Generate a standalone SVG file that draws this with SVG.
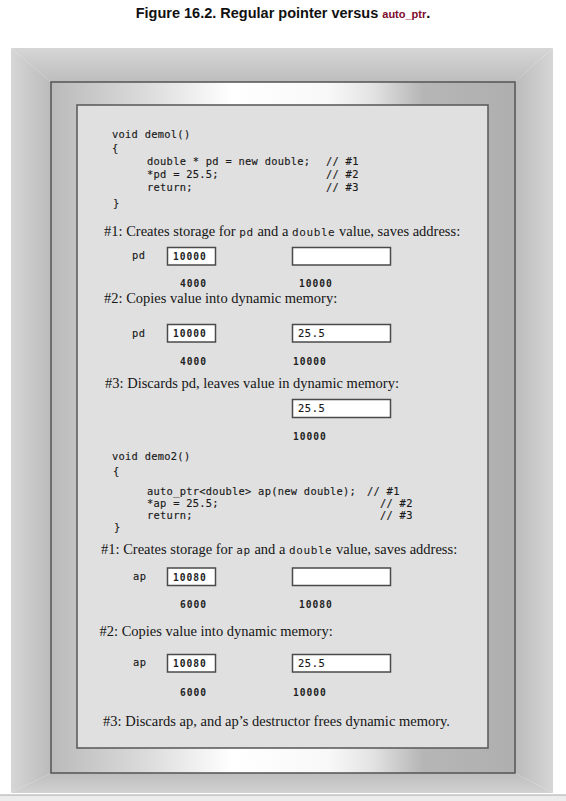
<svg xmlns="http://www.w3.org/2000/svg" width="566" height="801" viewBox="0 0 566 801">
  <defs>
    <!-- bevelled outer frame: each side shaded toward the inner edge -->
    <linearGradient id="gTop" x1="0" y1="48" x2="0" y2="82" gradientUnits="userSpaceOnUse">
      <stop offset="0" stop-color="#d6d6d6"/>
      <stop offset="1" stop-color="#bdbdbd"/>
    </linearGradient>
    <linearGradient id="gBottom" x1="0" y1="773" x2="0" y2="793" gradientUnits="userSpaceOnUse">
      <stop offset="0" stop-color="#bdbdbd"/>
      <stop offset="1" stop-color="#d2d2d2"/>
    </linearGradient>
    <linearGradient id="gLeft" x1="11" y1="0" x2="51" y2="0" gradientUnits="userSpaceOnUse">
      <stop offset="0" stop-color="#d6d6d6"/>
      <stop offset="1" stop-color="#bbbbbb"/>
    </linearGradient>
    <linearGradient id="gRight" x1="515" y1="0" x2="553" y2="0" gradientUnits="userSpaceOnUse">
      <stop offset="0" stop-color="#bbbbbb"/>
      <stop offset="1" stop-color="#d6d6d6"/>
    </linearGradient>
    <!-- metallic sheen of the middle mat -->
    <linearGradient id="gMat" x1="51" y1="0" x2="515" y2="0" gradientUnits="userSpaceOnUse">
      <stop offset="0" stop-color="#bababa"/>
      <stop offset="0.21" stop-color="#dcdcdc"/>
      <stop offset="0.39" stop-color="#ffffff"/>
      <stop offset="0.60" stop-color="#f8f8f8"/>
      <stop offset="0.69" stop-color="#e4e4e4"/>
      <stop offset="0.80" stop-color="#b6b6b6"/>
      <stop offset="1" stop-color="#afafaf"/>
    </linearGradient>
  </defs>
  <style>
    .title { font-family: "Liberation Sans", Arial, sans-serif; font-weight: bold; font-size: 14.5px; fill: #111; }
    .title .lit { font-size: 11px; fill: #7d0a2c; }
    .code { font-family: "DejaVu Sans Mono", "Liberation Mono", monospace; font-size: 10.4px; letter-spacing: 0.28px; fill: #1a1a1a; stroke: #1a1a1a; stroke-width: 0.15; }
    .cap { font-family: "Liberation Serif", "Times New Roman", serif; font-size: 14.5px; fill: #151515; }
    .cap .m { font-family: "DejaVu Sans Mono", "Liberation Mono", monospace; font-size: 11px; letter-spacing: 0.6px; }
    .num { font-family: "DejaVu Sans Mono", "Liberation Mono", monospace; font-size: 9.6px; font-weight: bold; letter-spacing: 1.0px; fill: #222; }
    .val { font-family: "DejaVu Sans Mono", "Liberation Mono", monospace; font-size: 10.4px; letter-spacing: 0.6px; fill: #1a1a1a; stroke: #1a1a1a; stroke-width: 0.15; }
    .cell { fill: #ffffff; stroke: #4a4a4a; stroke-width: 1.5; }
  </style>

  <rect x="0" y="0" width="566" height="801" fill="#ffffff"/>

  <!-- heading -->
  <text class="title" x="283" y="17.5" text-anchor="middle">Figure 16.2. Regular pointer versus <tspan class="lit">auto_ptr</tspan>.</text>

  <!-- page strip under the frame -->
  <rect x="0" y="795" width="566" height="6" fill="#ececec"/>
  <line x1="0" y1="795" x2="566" y2="795" stroke="#a8a8a8" stroke-width="1"/>

  <!-- frame -->
  <g id="frame">
    <polygon points="11,48 553,48 515,82 51,82" fill="url(#gTop)"/>
    <polygon points="51,773 515,773 553,793 11,793" fill="url(#gBottom)"/>
    <polygon points="11,48 51,82 51,773 11,793" fill="url(#gLeft)"/>
    <polygon points="553,48 515,82 515,773 553,793" fill="url(#gRight)"/>
    <rect x="51" y="82" width="464" height="691" fill="url(#gMat)" stroke="#5a5a5a" stroke-width="1.6"/>
    <rect x="77" y="105" width="411" height="643" fill="#e0e0e0" stroke="#5e5e5e" stroke-width="1.6"/>
  </g>

  <!-- demo1: plain pointer -->
  <g id="demo1-code">
    <text class="code" x="112" y="138">void demol()</text>
    <text class="code" x="112" y="152">{</text>
    <text class="code" x="147" y="165">double * pd = new double;</text>
    <text class="code" x="147" y="178">*pd = 25.5;</text>
    <text class="code" x="147" y="191">return;</text>
    <text class="code" x="326" y="165">// #1</text>
    <text class="code" x="326" y="178">// #2</text>
    <text class="code" x="326" y="191">// #3</text>
    <text class="code" x="113" y="207">}</text>
  </g>

  <g id="demo1-step1">
    <text class="cap" x="104" y="236">#1: Creates storage for <tspan class="m">pd</tspan> and a <tspan class="m">double</tspan> value, saves address:</text>
    <text class="val" x="132" y="259">pd</text>
    <rect class="cell" x="167.5" y="247.5" width="48" height="17.5"/>
    <text class="num" x="173" y="259.5">10000</text>
    <rect class="cell" x="292.5" y="247.5" width="98" height="17.5"/>
    <text class="num" x="180" y="287">4000</text>
    <text class="num" x="299" y="287">10000</text>
  </g>

  <g id="demo1-step2">
    <text class="cap" x="104" y="303">#2: Copies value into dynamic memory:</text>
    <text class="val" x="132" y="337">pd</text>
    <rect class="cell" x="167.5" y="324.5" width="48" height="17.5"/>
    <text class="num" x="173" y="337">10000</text>
    <rect class="cell" x="292.5" y="324.5" width="98" height="17.5"/>
    <text class="val" x="298" y="337">25.5</text>
    <text class="num" x="180" y="365">4000</text>
    <text class="num" x="293" y="365">10000</text>
  </g>

  <g id="demo1-step3">
    <text class="cap" x="105" y="388">#3: Discards pd, leaves value in dynamic memory:</text>
    <rect class="cell" x="292.5" y="399.5" width="98" height="18"/>
    <text class="val" x="298" y="412">25.5</text>
    <text class="num" x="293" y="440">10000</text>
  </g>

  <!-- demo2: auto_ptr -->
  <g id="demo2-code">
    <text class="code" x="112" y="460">void demo2()</text>
    <text class="code" x="113" y="475">{</text>
    <text class="code" x="147" y="495">auto_ptr&lt;double&gt; ap(new double);</text>
    <text class="code" x="147" y="507">*ap = 25.5;</text>
    <text class="code" x="147" y="519">return;</text>
    <text class="code" x="367" y="495">// #1</text>
    <text class="code" x="380" y="507">// #2</text>
    <text class="code" x="380" y="519">// #3</text>
    <text class="code" x="114" y="531">}</text>
  </g>

  <g id="demo2-step1">
    <text class="cap" x="101" y="554">#1: Creates storage for <tspan class="m">ap</tspan> and a <tspan class="m">double</tspan> value, saves address:</text>
    <text class="val" x="133" y="580">ap</text>
    <rect class="cell" x="167.5" y="568" width="48" height="17.5"/>
    <text class="num" x="173" y="580.5">10080</text>
    <rect class="cell" x="292.5" y="568" width="98" height="17.5"/>
    <text class="num" x="180" y="608">6000</text>
    <text class="num" x="299" y="608">10080</text>
  </g>

  <g id="demo2-step2">
    <text class="cap" x="99.5" y="636">#2: Copies value into dynamic memory:</text>
    <text class="val" x="133" y="666">ap</text>
    <rect class="cell" x="167.5" y="654.5" width="48" height="17.5"/>
    <text class="num" x="173" y="667">10080</text>
    <rect class="cell" x="292.5" y="654.5" width="98" height="17.5"/>
    <text class="val" x="298" y="667">25.5</text>
    <text class="num" x="180" y="696">6000</text>
    <text class="num" x="293" y="696">10000</text>
  </g>

  <g id="demo2-step3">
    <text class="cap" x="103" y="726">#3: Discards ap, and ap’s destructor frees dynamic memory.</text>
  </g>
</svg>
